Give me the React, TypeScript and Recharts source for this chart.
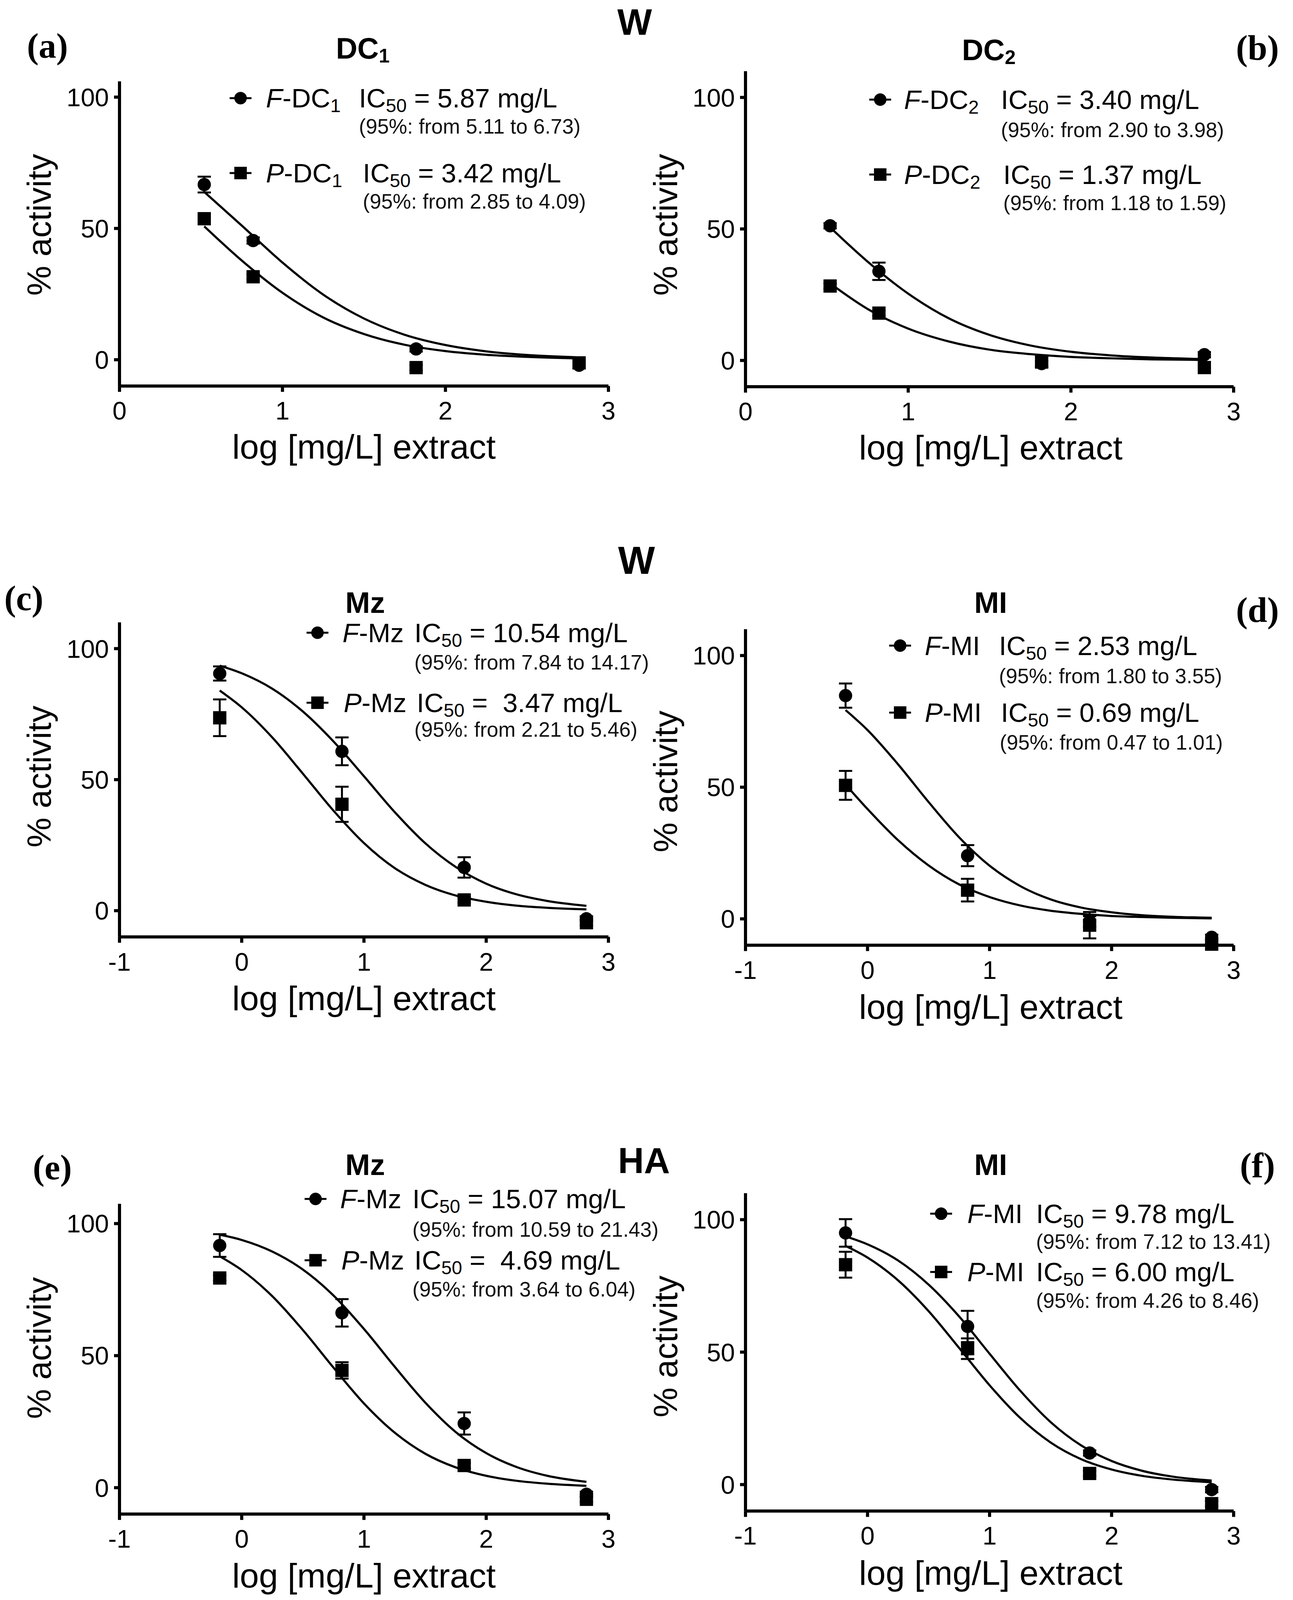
import React from 'react';
import { ComposedChart, Line, Scatter, XAxis, YAxis, ErrorBar, Legend } from 'recharts';

const FONT = '"Liberation Sans", Arial, Helvetica, sans-serif';
const SERIF = '"Liberation Serif", "Times New Roman", serif';

// ---- doses (log [mg/L]) ----
const dosesDC = [0.52, 0.82, 1.82, 2.82];
const dosesM = [-0.18, 0.82, 1.82, 2.82];
const fitXDC = [0.52, 0.75, 1.0, 1.25, 1.5, 1.75, 2.0, 2.25, 2.5, 2.82];
const fitXM = [-0.18, 0, 0.25, 0.5, 0.75, 1.0, 1.25, 1.5, 1.75, 2.0, 2.25, 2.5, 2.82];

// ---- (a) DC1 ----
const fDC1Y = [66.7, 45.4, 4.1, -2.1];
const fDC1Err = [3.0, 1.2, 1, 1];
const pDC1Y = [53.7, 31.6, -3.0, -1.2];
const pDC1Err = [1, 1, 1, 1];
const fDC1Fit = [63.9, 51.1, 37.0, 24.8, 15.7, 9.5, 5.6, 3.2, 1.8, 0.9];
const pDC1Fit = [50.8, 37.8, 25.5, 16.1, 9.8, 5.7, 3.3, 1.9, 1.1, 0.5];

// ---- (b) DC2 ----
const fDC2Y = [51.2, 33.9, -1.2, 2.2];
const fDC2Err = [1, 3.3, 1, 1];
const pDC2Y = [28.3, 18.0, -0.6, -2.7];
const pDC2Err = [1, 1, 2, 1];
const fDC2Fit = [50.6, 37.6, 25.4, 16.0, 9.7, 5.7, 3.3, 1.9, 1.1, 0.5];
const pDC2Fit = [29.3, 19.6, 12.1, 7.2, 4.1, 2.4, 1.35, 0.8, 0.4, 0.2];

// ---- (c) Mz, W ----
const fMzWY = [90.5, 60.8, 16.5, -3.1];
const fMzWErr = [2.7, 5.3, 3.9, 1];
const pMzWY = [73.6, 40.6, 4.1, -4.6];
const pMzWErr = [7, 6.7, 1, 1];
const fMzWFit = [93.5, 90.6, 84.7, 76.0, 64.6, 51.3, 37.7, 25.8, 16.7, 10.3, 6.2, 3.7, 1.85];
const pMzWFit = [84.0, 77.6, 66.1, 52.3, 38.2, 25.8, 16.3, 9.9, 5.8, 3.4, 1.9, 1.1, 0.5];

// ---- (d) MI, W ----
const fMIWY = [84.8, 24.0, -1.0, -7.0];
const fMIWErr = [4.6, 4.0, 2, 1];
const pMIWY = [50.7, 10.9, -2.4, -9.6];
const pMIWErr = [5.5, 4.3, 5, 0.3];
const fMIWFit = [79.3, 71.7, 58.7, 44.4, 31.0, 20.2, 12.5, 7.4, 4.3, 2.5, 1.4, 0.8, 0.4];
const pMIWFit = [51.0, 41.7, 29.9, 20.3, 13.1, 8.3, 5.1, 3.1, 1.9, 1.1, 0.7, 0.4, 0.2];

// ---- (e) Mz, HA ----
const fMzHY = [91.7, 66.2, 24.3, -2.5];
const fMzHErr = [4.3, 5.2, 4.2, 1];
const pMzHY = [79.4, 44.4, 8.4, -4.4];
const pMzHErr = [1, 3.1, 1, 1];
const fMzHFit = [95.8, 93.8, 89.4, 82.6, 72.8, 60.1, 45.9, 32.3, 21.1, 13.1, 7.8, 4.5, 2.2];
const pMzHFit = [87.6, 82.4, 72.5, 59.7, 45.5, 31.9, 20.9, 12.9, 7.7, 4.5, 2.6, 1.5, 0.7];

// ---- (f) MI, HA ----
const fMIHY = [95.0, 59.7, 11.9, -1.9];
const fMIHErr = [5.2, 5.9, 1, 1];
const pMIHY = [83.0, 51.3, 4.2, -7.2];
const pMIHErr = [4.9, 3.9, 1, 1];
const fMIHFit = [93.7, 90.7, 84.6, 75.5, 63.5, 49.4, 35.5, 23.6, 14.8, 8.9, 5.2, 3.0, 1.5];
const pMIHFit = [90.1, 85.7, 77.1, 65.5, 51.6, 37.5, 25.2, 15.9, 9.6, 5.7, 3.3, 1.9, 0.9];

// ---- tick labels ----
const yTicks = [0, 50, 100];
const xTicksDC = [0, 1, 2, 3];
const xTicksM = [-1, 0, 1, 2, 3];

const pts = (xs: number[], ys: number[], es: number[]) => xs.map((x, i) => ({ x, y: ys[i], e: es[i] }));
const fit = (xs: number[], ys: number[]) => xs.map((x, i) => ({ x, y: ys[i] }));

type Row = { name: string; sub?: string; ic: string; ci: string; base: number; ciBase: number; icX: number; ciX: number; labelX: number; mx: number };

const panels = [
  {
    id: 'a', left: 0, top: 0, w: 1656, h: 1300, plot: [306, 1558, 215, 1020], xDomain: [0, 3], xTicks: xTicksDC, yDomain: [-10, 106],
    f: { pts: pts(dosesDC, fDC1Y, fDC1Err), fit: fit(fitXDC, fDC1Fit) },
    p: { pts: pts(dosesDC, pDC1Y, pDC1Err), fit: fit(fitXDC, pDC1Fit) },
    rows: [
      { name: 'DC', sub: '1', ic: '5.87', ci: '(95%: from 5.11 to 6.73)', base: 284, ciBase: 353, icX: 919, ciX: 919, labelX: 681, mx: 616 },
      { name: 'DC', sub: '1', ic: '3.42', ci: '(95%: from 2.85 to 4.09)', base: 482, ciBase: 551, icX: 929, ciX: 929, labelX: 681, mx: 616 },
    ] as Row[],
  },
  {
    id: 'b', left: 1656, top: 0, w: 1655, h: 1300, plot: [253, 1503, 188, 1022], xDomain: [0, 3], xTicks: xTicksDC, yDomain: [-10, 110],
    f: { pts: pts(dosesDC, fDC2Y, fDC2Err), fit: fit(fitXDC, fDC2Fit) },
    p: { pts: pts(dosesDC, pDC2Y, pDC2Err), fit: fit(fitXDC, pDC2Fit) },
    rows: [
      { name: 'DC', sub: '2', ic: '3.40', ci: '(95%: from 2.90 to 3.98)', base: 288, ciBase: 362, icX: 2563, ciX: 2563, labelX: 2315, mx: 2254 },
      { name: 'DC', sub: '2', ic: '1.37', ci: '(95%: from 1.18 to 1.59)', base: 486, ciBase: 555, icX: 2569, ciX: 2569, labelX: 2315, mx: 2254 },
    ] as Row[],
  },
  {
    id: 'c', left: 0, top: 1400, w: 1656, h: 1400, plot: [306, 1558, 245, 1076], xDomain: [-1, 3], xTicks: xTicksM, yDomain: [-10, 110],
    f: { pts: pts(dosesM, fMzWY, fMzWErr), fit: fit(fitXM, fMzWFit) },
    p: { pts: pts(dosesM, pMzWY, pMzWErr), fit: fit(fitXM, pMzWFit) },
    rows: [
      { name: 'Mz', ic: '10.54', ci: '(95%: from 7.84 to 14.17)', base: 1697, ciBase: 1770, icX: 1061, ciX: 1061, labelX: 877, mx: 813 },
      { name: 'Mz', ic: ' 3.47', ci: '(95%: from 2.21 to 5.46)', base: 1882, ciBase: 1947, icX: 1067, ciX: 1061, labelX: 880, mx: 813 },
    ] as Row[],
  },
  {
    id: 'd', left: 1656, top: 1400, w: 1655, h: 1400, plot: [253, 1503, 263, 1098], xDomain: [-1, 3], xTicks: xTicksM, yDomain: [-10, 110],
    f: { pts: pts(dosesM, fMIWY, fMIWErr), fit: fit(fitXM, fMIWFit) },
    p: { pts: pts(dosesM, pMIWY, pMIWErr), fit: fit(fitXM, pMIWFit) },
    rows: [
      { name: 'MI', ic: '2.53', ci: '(95%: from 1.80 to 3.55)', base: 1731, ciBase: 1806, icX: 2558, ciX: 2558, labelX: 2368, mx: 2305 },
      { name: 'MI', ic: '0.69', ci: '(95%: from 0.47 to 1.01)', base: 1908, ciBase: 1981, icX: 2563, ciX: 2560, labelX: 2368, mx: 2305 },
    ] as Row[],
  },
  {
    id: 'e', left: 0, top: 2850, w: 1656, h: 1378, plot: [306, 1558, 331, 1151], xDomain: [-1, 3], xTicks: xTicksM, yDomain: [-10, 107.5],
    f: { pts: pts(dosesM, fMzHY, fMzHErr), fit: fit(fitXM, fMzHFit) },
    p: { pts: pts(dosesM, pMzHY, pMzHErr), fit: fit(fitXM, pMzHFit) },
    rows: [
      { name: 'Mz', ic: '15.07', ci: '(95%: from 10.59 to 21.43)', base: 3193, ciBase: 3268, icX: 1056, ciX: 1056, labelX: 871, mx: 808 },
      { name: 'Mz', ic: ' 4.69', ci: '(95%: from 3.64 to 6.04)', base: 3355, ciBase: 3426, icX: 1061, ciX: 1056, labelX: 874, mx: 808 },
    ] as Row[],
  },
  {
    id: 'f', left: 1656, top: 2850, w: 1655, h: 1378, plot: [253, 1503, 303, 1143], xDomain: [-1, 3], xTicks: xTicksM, yDomain: [-10, 110],
    f: { pts: pts(dosesM, fMIHY, fMIHErr), fit: fit(fitXM, fMIHFit) },
    p: { pts: pts(dosesM, pMIHY, pMIHErr), fit: fit(fitXM, pMIHFit) },
    rows: [
      { name: 'MI', ic: '9.78', ci: '(95%: from 7.12 to 13.41)', base: 3232, ciBase: 3300, icX: 2653, ciX: 2653, labelX: 2477, mx: 2410 },
      { name: 'MI', ic: '6.00', ci: '(95%: from 4.26 to 8.46)', base: 3386, ciBase: 3456, icX: 2653, ciX: 2653, labelX: 2477, mx: 2410 },
    ] as Row[],
  },
];

const AX = { stroke: '#000', strokeWidth: 8 };
const TICK = { fill: '#000', fontSize: 65, fontFamily: FONT };

const CircleDot = (props: any) => <circle cx={props.cx} cy={props.cy} r={17} fill="#000" />;
const SquareDot = (props: any) => <rect x={props.cx - 17} y={props.cy - 17} width={34} height={34} fill="#000" />;

function LegendArt({ rows, ox, oy, w, h, k }: { rows: Row[]; ox: number; oy: number; w: number; h: number; k: number }) {
  return (
    <svg width={w} height={h} style={{ position: 'absolute', left: 0, top: 0, overflow: 'visible' }}>
      {rows.map((r, i) => {
        const base = r.base * k - oy;
        const my = base - 24;
        const mx = r.mx - ox;
        return (
          <g key={i} fontFamily={FONT} fill="#000">
            <line x1={mx - 28} x2={mx + 28} y1={my} y2={my} stroke="#000" strokeWidth={5} />
            {i === 0 ? (
              <circle cx={mx} cy={my} r={16} fill="#000" />
            ) : (
              <rect x={mx - 16} y={my - 16} width={32} height={32} fill="#000" />
            )}
            <text x={r.labelX - ox} y={base} fontSize={69}>
              <tspan fontStyle="italic">{i === 0 ? 'F' : 'P'}</tspan>
              <tspan>{'-' + r.name}</tspan>
              {r.sub ? <tspan fontSize={48} dy={12}>{r.sub}</tspan> : null}
            </text>
            <text x={r.icX - ox} y={base} fontSize={69} style={{ whiteSpace: 'pre' }}>
              <tspan>IC</tspan>
              <tspan fontSize={48} dy={12}>50</tspan>
              <tspan dy={-12}>{' = ' + r.ic + ' mg/L'}</tspan>
            </text>
            <text x={r.ciX - ox} y={r.ciBase * k - oy} fontSize={53} fill="#111">{r.ci}</text>
          </g>
        );
      })}
    </svg>
  );
}

function Panel({ cfg, k }: { cfg: any; k: number }) {
  const [pl, pr, pt, pb] = cfg.plot;
  const XH = 100;
  const YW = 100;
  const top = cfg.top * k;
  const h = Math.round(cfg.h * k);
  const plotTop = (cfg.top + pt) * k - top;
  const plotBottom = (cfg.top + pb) * k - top;
  const margin = { top: plotTop, right: cfg.w - pr, bottom: h - plotBottom - XH, left: pl - YW };
  return (
    <div style={{ position: 'absolute', left: cfg.left, top, width: cfg.w, height: h }}>
      <ComposedChart width={cfg.w} height={h} margin={margin}>
        <XAxis
          type="number"
          dataKey="x"
          domain={cfg.xDomain}
          ticks={cfg.xTicks}
          interval={0}
          height={XH}
          tickSize={15}
          tickMargin={25}
          axisLine={AX}
          tickLine={AX}
          tick={TICK}
        />
        <YAxis
          type="number"
          dataKey="y"
          domain={cfg.yDomain}
          ticks={yTicks}
          interval={0}
          width={YW}
          tickSize={14}
          tickMargin={13}
          axisLine={AX}
          tickLine={AX}
          tick={TICK}
        />
        <Line data={cfg.f.fit} dataKey="y" type="monotone" dot={false} activeDot={false} stroke="#000" strokeWidth={5.5} isAnimationActive={false} legendType="none" />
        <Line data={cfg.p.fit} dataKey="y" type="monotone" dot={false} activeDot={false} stroke="#000" strokeWidth={5.5} isAnimationActive={false} legendType="none" />
        <Scatter data={cfg.f.pts} dataKey="y" shape={CircleDot} isAnimationActive={false}>
          <ErrorBar dataKey="e" direction="y" width={17} stroke="#000" strokeWidth={5} />
        </Scatter>
        <Scatter data={cfg.p.pts} dataKey="y" shape={SquareDot} isAnimationActive={false}>
          <ErrorBar dataKey="e" direction="y" width={17} stroke="#000" strokeWidth={5} />
        </Scatter>
        <Legend
          layout="horizontal"
          verticalAlign="middle"
          align="center"
          wrapperStyle={{ left: 0, top: 0, width: cfg.w, height: h, pointerEvents: 'none' }}
          content={() => <LegendArt rows={cfg.rows} ox={cfg.left} oy={top} w={cfg.w} h={h} k={k} />}
        />
      </ComposedChart>
    </div>
  );
}

const panelLetters = [
  { t: '(a)', x: 69, y: 153 },
  { t: '(b)', x: 3165, y: 158 },
  { t: '(c)', x: 11, y: 1612 },
  { t: '(d)', x: 3165, y: 1643 },
  { t: '(e)', x: 84, y: 3116 },
  { t: '(f)', x: 3175, y: 3111 },
];
const titles = [
  { t: 'DC', sub: '1', x: 929, y: 155 },
  { t: 'DC', sub: '2', x: 2532, y: 159 },
  { t: 'Mz', x: 935, y: 1620 },
  { t: 'MI', x: 2537, y: 1620 },
  { t: 'Mz', x: 935, y: 3105 },
  { t: 'MI', x: 2537, y: 3105 },
];
const headers = [
  { t: 'W', x: 1625, y: 92, s: 94 },
  { t: 'W', x: 1630, y: 1516, s: 100 },
  { t: 'HA', x: 1649, y: 3100, s: 92 },
];
const yLabels = [
  { x: 100, y: 594 },
  { x: 1704, y: 594 },
  { x: 100, y: 2052 },
  { x: 1704, y: 2065 },
  { x: 100, y: 3562 },
  { x: 1704, y: 3558 },
];
const xLabels = [
  { x: 932, y: 1212 },
  { x: 2537, y: 1214 },
  { x: 932, y: 2669 },
  { x: 2537, y: 2692 },
  { x: 932, y: 4195 },
  { x: 2537, y: 4188 },
];

function Overlay({ k, H }: { k: number; H: number }) {
  return (
    <svg width={3311} height={H} style={{ position: 'absolute', left: 0, top: 0, pointerEvents: 'none' }}>
      {headers.map((h, i) => (
        <text key={'h' + i} x={h.x} y={h.y * k} textAnchor="middle" fontFamily={FONT} fontWeight="bold" fontSize={h.s} fill="#000">{h.t}</text>
      ))}
      {panelLetters.map((p, i) => (
        <text key={'p' + i} x={p.x} y={p.y * k} fontFamily={SERIF} fontWeight="bold" fontSize={90} fill="#000">{p.t}</text>
      ))}
      {titles.map((t, i) => (
        <text key={'t' + i} x={t.x} y={t.y * k} textAnchor="middle" fontFamily={FONT} fontWeight="bold" fontSize={76} fill="#000">
          {t.t}
          {t.sub ? <tspan fontSize={50} dy={10}>{t.sub}</tspan> : null}
        </text>
      ))}
      {yLabels.map((l, i) => (
        <text key={'y' + i} transform={`translate(${l.x},${l.y * k}) rotate(-90)`} textAnchor="middle" dy="0.35em" fontFamily={FONT} fontSize={86} fill="#000">% activity</text>
      ))}
      {xLabels.map((l, i) => (
        <text key={'x' + i} x={l.x} y={l.y * k} textAnchor="middle" fontFamily={FONT} fontSize={88} fill="#000">log [mg/L] extract</text>
      ))}
    </svg>
  );
}

export default function App() {
  const ih = typeof window !== 'undefined' ? window.innerHeight : 4228;
  const k = ih > 2000 && ih < 4228 ? ih / 4228 : 1;
  const H = Math.round(4228 * k);
  return (
    <div style={{ position: 'absolute', left: 0, top: 0, width: 3311, height: H, background: '#fff', overflow: 'hidden' }}>
      {panels.map((p) => (
        <Panel key={p.id} cfg={p} k={k} />
      ))}
      <Overlay k={k} H={H} />
    </div>
  );
}
